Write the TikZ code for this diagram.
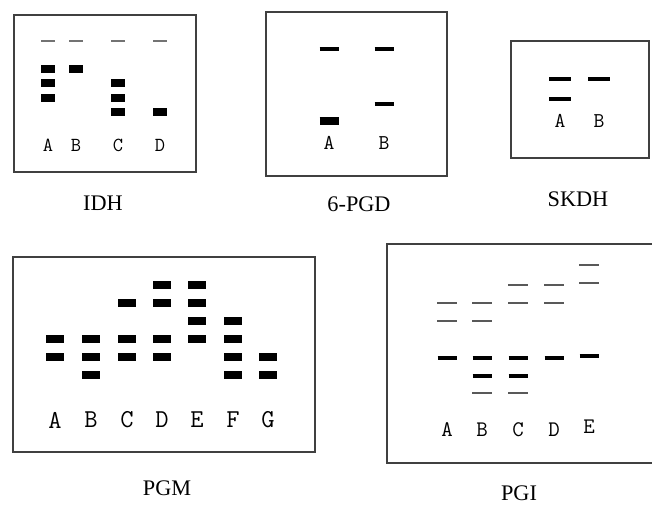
\documentclass[tikz,border=0pt]{standalone}
\usepackage{fontspec}
\setmainfont{Liberation Serif}
\begin{document}
\begin{tikzpicture}[x=0.03cm,y=-0.03cm,
    frame/.style={draw=black!75,line width=1.2pt},
    bnd/.style={line width=6.4pt},
    mid/.style={line width=3.8pt},
    thn/.style={line width=1.4pt,black!55},
    thnd/.style={line width=1.2pt,black!65},
    lane/.style={inner sep=0pt,font=\ttfamily},
    title/.style={inner sep=0pt,font=\fontsize{19}{0}\selectfont}]
    	\useasboundingbox (0,0) rectangle (652,506);
    	%отрисовка IDH
    	\draw[frame] (14,15) rectangle (196,172);
    	\node[title] (idh) at (103,203) {IDH};
    	\draw[thn] (41,41) -- (55,41);
    	\draw[thn] (69,41) -- (83,41);
    	\draw[thn] (111,41) -- (125,41);
    	\draw[thn] (153,41) -- (167,41);
    	\draw[bnd] (41,69) -- (55,69);
    	\draw[bnd] (41,83) -- (55,83);
    	\draw[bnd] (41,98) -- (55,98);
    	\draw[bnd] (69,69) -- (83,69);
    	\draw[bnd] (111,83) -- (125,83);
    	\draw[bnd] (111,98) -- (125,98);
    	\draw[bnd] (111,112) -- (125,112);
    	\draw[bnd] (153,112) -- (167,112);
    	\node[lane] (idhA) at (48,145) {\fontsize{17}{0}\selectfont A};
    	\node[lane] (idhB) at (76,145) {\fontsize{17}{0}\selectfont B};
    	\node[lane] (idhC) at (118,145) {\fontsize{17}{0}\selectfont C};
    	\node[lane] (idhD) at (160,145) {\fontsize{17}{0}\selectfont D};
    	%отрисовка 6-PGD
    	\draw[frame] (266,12) rectangle (447,176);
    	\node[title] (pgd) at (359,204) {6-PGD};
    	\draw[mid] (319.5,49) -- (338.5,49);
    	\draw[mid] (374.5,49) -- (393.5,49);
    	\draw[mid] (374.5,104) -- (393.5,104);
    	\draw[bnd] (319.5,121) -- (338.5,121);
    	\node[lane] (pgdA) at (329,143) {\fontsize{18}{0}\selectfont A};
    	\node[lane] (pgdB) at (384,143) {\fontsize{18}{0}\selectfont B};
    	%отрисовка SKDH
    	\draw[frame] (511,41) rectangle (649,158);
    	\node[title] (skdh) at (578,199) {SKDH};
    	\draw[mid] (549,79) -- (571,79);
    	\draw[mid] (549,99) -- (571,99);
    	\draw[mid] (588,79) -- (610,79);
    	\node[lane] (skdhA) at (560,121) {\fontsize{18}{0}\selectfont A};
    	\node[lane] (skdhB) at (599,121) {\fontsize{18}{0}\selectfont B};
    	%отрисовка PGM
    	\draw[frame] (13,257) rectangle (315,452);
    	\node[title] (pgm) at (167,488) {PGM};
    	\draw[bnd] (46,339) -- (64,339);
    	\draw[bnd] (46,357) -- (64,357);
    	\draw[bnd] (82,339) -- (100,339);
    	\draw[bnd] (82,357) -- (100,357);
    	\draw[bnd] (82,375) -- (100,375);
    	\draw[bnd] (118,303) -- (136,303);
    	\draw[bnd] (118,339) -- (136,339);
    	\draw[bnd] (118,357) -- (136,357);
    	\draw[bnd] (153,285) -- (171,285);
    	\draw[bnd] (153,303) -- (171,303);
    	\draw[bnd] (153,339) -- (171,339);
    	\draw[bnd] (153,357) -- (171,357);
    	\draw[bnd] (188,285) -- (206,285);
    	\draw[bnd] (188,303) -- (206,303);
    	\draw[bnd] (188,321) -- (206,321);
    	\draw[bnd] (188,339) -- (206,339);
    	\draw[bnd] (224,321) -- (242,321);
    	\draw[bnd] (224,339) -- (242,339);
    	\draw[bnd] (224,357) -- (242,357);
    	\draw[bnd] (224,375) -- (242,375);
    	\draw[bnd] (259,357) -- (277,357);
    	\draw[bnd] (259,375) -- (277,375);
    	\node[lane] (pgmA) at (55,420) {\fontsize{22}{0}\selectfont A};
    	\node[lane] (pgmB) at (91,420) {\fontsize{22}{0}\selectfont B};
    	\node[lane] (pgmC) at (127,420) {\fontsize{22}{0}\selectfont C};
    	\node[lane] (pgmD) at (162,420) {\fontsize{22}{0}\selectfont D};
    	\node[lane] (pgmE) at (197,420) {\fontsize{22}{0}\selectfont E};
    	\node[lane] (pgmF) at (233,420) {\fontsize{22}{0}\selectfont F};
    	\node[lane] (pgmG) at (268,420) {\fontsize{22}{0}\selectfont G};
    	%отрисовка PGI (правый край обрезан)
    	\draw[frame] (652,244) -- (387,244) -- (387,463) -- (652,463);
    	\node[title] (pgi) at (519,493) {PGI};
    	\draw[thnd] (437,303) -- (457,303);
    	\draw[thnd] (437,321) -- (457,321);
    	\draw[thnd] (472,303) -- (492,303);
    	\draw[thnd] (472,321) -- (492,321);
    	\draw[thnd] (472,393) -- (492,393);
    	\draw[thnd] (508,285) -- (528,285);
    	\draw[thnd] (508,303) -- (528,303);
    	\draw[thnd] (508,393) -- (528,393);
    	\draw[thnd] (544,285) -- (564,285);
    	\draw[thnd] (544,303) -- (564,303);
    	\draw[thnd] (579,265) -- (599,265);
    	\draw[thnd] (579,283) -- (599,283);
    	\draw[mid] (437.5,358) -- (456.5,358);
    	\draw[mid] (472.5,358) -- (491.5,358);
    	\draw[mid] (472.5,376) -- (491.5,376);
    	\draw[mid] (508.5,358) -- (527.5,358);
    	\draw[mid] (508.5,376) -- (527.5,376);
    	\draw[mid] (544.5,358) -- (563.5,358);
    	\draw[mid] (579.5,356) -- (598.5,356);
    	\node[lane] (pgiA) at (447,430) {\fontsize{19}{0}\selectfont A};
    	\node[lane] (pgiB) at (482,430) {\fontsize{19}{0}\selectfont B};
    	\node[lane] (pgiC) at (518,430) {\fontsize{19}{0}\selectfont C};
    	\node[lane] (pgiD) at (554,430) {\fontsize{19}{0}\selectfont D};
    	\node[lane] (pgiE) at (589,427) {\fontsize{19}{0}\selectfont E};
\end{tikzpicture}
\end{document}
